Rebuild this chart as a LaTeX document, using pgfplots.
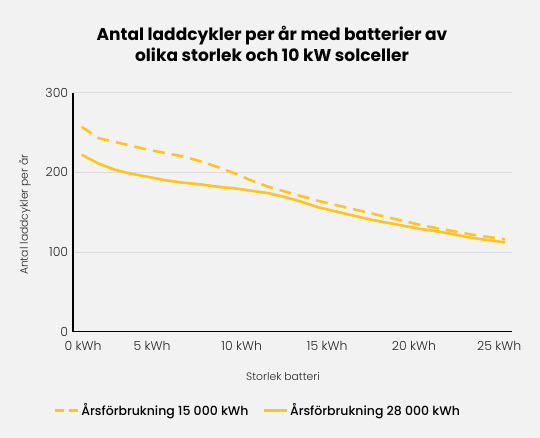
\documentclass[border=0pt]{standalone}
\usepackage{pgfplots}
\pgfplotsset{compat=1.18}
\usepackage{fontspec}
\setmainfont{Poppins}
\newfontfamily\lightfont{Poppins Light}
\newfontfamily\medfont{Poppins Medium}
\newfontfamily\boldfont{Poppins Bold}
\definecolor{bgc}{HTML}{F2F2F2}
\definecolor{linec}{HTML}{FFC41F}
\definecolor{gridc}{HTML}{DCDCDC}
\begin{document}
\begin{tikzpicture}[x=1bp,y=1bp]
\fill[bgc] (0,0) rectangle (540,438);
\node[align=center, font={\boldfont\fontsize{17bp}{21bp}\selectfont}] at (272,394) {Antal laddcykler per år med batterier av\\olika storlek och 10 kW solceller};
\begin{axis}[
  at={(72.7bp,106.3bp)}, anchor=south west,
  scale only axis, width=439bp, height=239bp,
  xmin=-0.53, xmax=25.4, ymin=0, ymax=300,
  axis x line=bottom, axis y line=left,
  axis line style={-, black, line width=1.6bp},
  ytick={0,100,200,300},
  xtick={0.08,4.16,9.45,14.5,19.63,24.66},
  xticklabels={0 kWh,5 kWh,10 kWh,15 kWh,20 kWh,25 kWh},
  major tick length=0pt,
  ymajorgrids, grid style={gridc, line width=0.7bp},
  /pgf/number format/assume math mode=true,
  ticklabel style={font={\lightfont\fontsize{12.5bp}{14bp}\selectfont}, text=black!85},
  yticklabel style={xshift=-1bp},
  xticklabel style={yshift=-6bp},
  xlabel={Storlek batteri},
  ylabel={Antal laddcykler per år},
  label style={font={\lightfont\fontsize{10.8bp}{13bp}\selectfont}, text=black!85},
  xlabel style={at={(axis description cs:0.479,-0.188)}, anchor=center},
  ylabel style={at={(axis description cs:-0.1087,0.49)}, anchor=center},
  legend columns=2,
  legend style={at={(axis description cs:0.422,-0.33)}, anchor=center, draw=none, fill=none,
    font={\medfont\fontsize{12.5bp}{15bp}\selectfont},
    /tikz/every even column/.append style={column sep=12bp}},
  legend image code/.code={\draw[#1] (0pt,0pt) -- (23pt,0pt);},
]
\addplot[linec, line width=2.6bp, dash pattern=on 12bp off 7bp, forget plot] coordinates {
(0,257) (1,243) (2,238) (3,233) (4,228) (5,224) (6,220) (7,214) (8,207) (9,199)
(10,190) (11,182) (12,176) (13,170) (14,164) (15,159) (16,154) (17,149) (18,144)
(19,139) (20,134) (21,130) (22,126) (23,122) (24,119) (25,116)};
\addplot[linec, line width=2.6bp, forget plot] coordinates {
(0,222) (1,211) (2,203) (3,198) (4,194) (5,190) (6,187) (7,185) (8,182) (9,180)
(10,177) (11,174) (12,169) (13,163) (14,156) (15,151) (16,146) (17,141) (18,137)
(19,133) (20,129) (21,126) (22,122) (23,118) (24,115) (25,112)};
\addlegendimage{linec, line width=2.6bp, dash pattern=on 9bp off 5bp}
\addlegendentry{Årsförbrukning 15 000 kWh}
\addlegendimage{linec, line width=2.6bp}
\addlegendentry{Årsförbrukning 28 000 kWh}
\end{axis}
\end{tikzpicture}
\end{document}
